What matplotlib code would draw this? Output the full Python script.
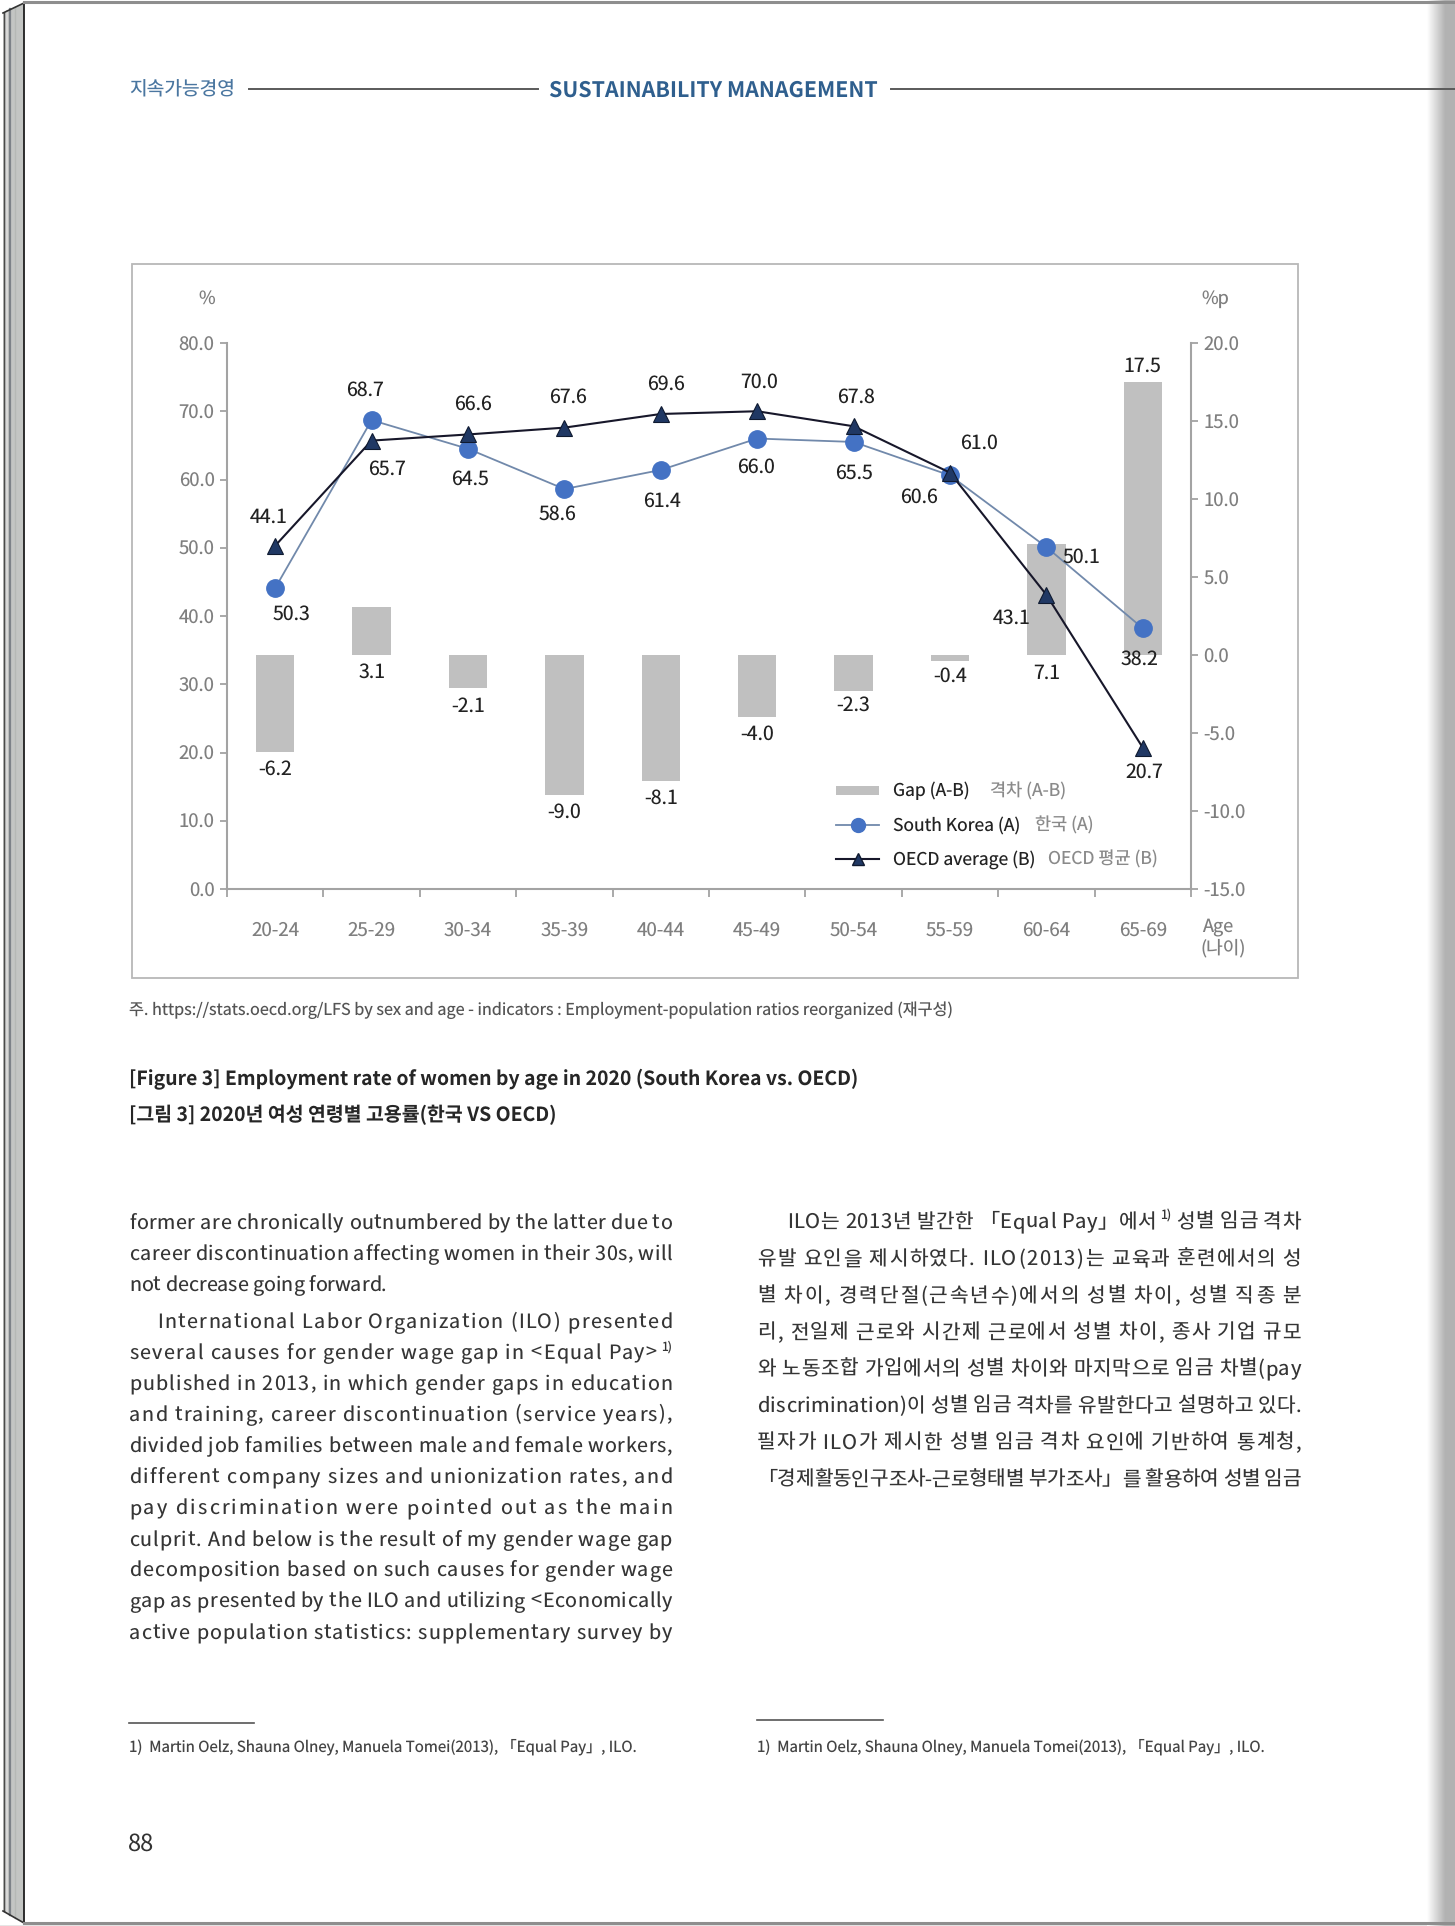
import matplotlib
matplotlib.use('Agg')
import matplotlib.pyplot as plt
import numpy as np
from matplotlib.patches import Rectangle, Polygon
from matplotlib.lines import Line2D
from matplotlib.font_manager import FontProperties, findfont, get_font

W, H = 1455, 1926
plt.rcParams['font.family'] = ['Noto Sans CJK KR', 'DejaVu Sans']
plt.rcParams['text.hinting'] = 'no_hinting'

# ---------------- data ----------------
age_groups = ['20-24', '25-29', '30-34', '35-39', '40-44',
              '45-49', '50-54', '55-59', '60-64', '65-69']
korea = [44.1, 68.7, 64.5, 58.6, 61.4, 66.0, 65.5, 60.6, 50.1, 38.2]
oecd = [50.3, 65.7, 66.6, 67.6, 69.6, 70.0, 67.8, 61.0, 43.1, 20.7]
gap = [-6.2, 3.1, -2.1, -9.0, -8.1, -4.0, -2.3, -0.4, 7.1, 17.5]
# data labels exactly as printed in the source figure
korea_labels = ['50.3', '68.7', '64.5', '58.6', '61.4', '66.0', '65.5', '60.6', '50.1', '38.2']
oecd_labels = ['44.1', '65.7', '66.6', '67.6', '69.6', '70.0', '67.8', '61.0', '43.1', '20.7']
gap_labels = ['-6.2', '3.1', '-2.1', '-9.0', '-8.1', '-4.0', '-2.3', '-0.4', '7.1', '17.5']
left_ticks = [0, 10, 20, 30, 40, 50, 60, 70, 80]
right_ticks = [-15, -10, -5, 0, 5, 10, 15, 20]
legend_en = ['Gap (A-B)', 'South Korea (A)', 'OECD average (B)']
legend_kr = ['격차 (A-B)', '한국 (A)', 'OECD 평균 (B)']

# label placement (pixel offsets) - style only
oecd_off = [(-7, 29), (15, -29), (5, 30), (4, 30), (5, 30), (2, 29), (2, 29), (29, 29), (-35, -23), (1, -24)]
korea_off = [(16, -26), (-7, 30), (2, -30), (-7, -25), (1, -31), (-1, -29), (0, -31), (-31, -22), (35, -10), (-3, -31)]
gap_off = [-17, -17, -18, -17, -17, -17, -14, -15, -18, 16]
legend_gap = [20, 15, 13]

fig = plt.figure(figsize=(W / 100, H / 100), dpi=100)
renderer = fig.canvas.get_renderer()

# page overlay axes in pixel coordinates
pg = fig.add_axes([0, 0, 1, 1])
pg.set_xlim(0, W)
pg.set_ylim(H, 0)
pg.axis('off')


def twidth(s, size, weight='normal'):
    t = pg.text(0, 0, s, fontsize=size, fontweight=weight)
    w = t.get_window_extent(renderer=renderer).width
    t.remove()
    return w


def fit_size(s, target, weight='normal'):
    return 10 * target / twidth(s, 10, weight)


# glyph advances for per-character justified body text
_fpath = findfont(FontProperties(family='Noto Sans CJK KR'))
try:
    from matplotlib.ft2font import LoadFlags
    _NOHINT = LoadFlags.NO_HINTING
except Exception:
    _NOHINT = 2
_adv_cache = {}


def adv(ch, size):
    key = (ch, size)
    if key not in _adv_cache:
        f = get_font(_fpath)
        f.set_size(size, 100)
        g = f.load_char(ord(ch), flags=_NOHINT)
        _adv_cache[key] = g.linearHoriAdvance / 65536.0
    return _adv_cache[key]


# ---------------- page decoration ----------------
pg.add_patch(Polygon([(3, 13), (24, 3), (24, 1923), (3, 1911)], closed=True,
                     facecolor='#c3c5c3', edgecolor='none', zorder=1))
pg.plot([3.5, 3.5], [13, 1911], color='#4a4a4a', lw=1.0, zorder=2)
pg.plot([6.5, 6.5], [11, 1913], color='#d8d8d8', lw=1.5, zorder=2)
pg.plot([10, 10], [9, 1915], color='#7d8288', lw=1.6, zorder=2)
pg.plot([15, 15], [7, 1918], color='#b5b8b5', lw=1.0, zorder=2)
pg.plot([24, 24], [3, 1923], color='#1e1e1e', lw=1.3, zorder=3)
pg.plot([3, 24], [13, 3], color='#333333', lw=1.2, zorder=3)
pg.plot([3, 24], [1911, 1923], color='#333333', lw=1.2, zorder=3)
pg.plot([24, W], [2.5, 2.5], color='#8e8e8e', lw=2.2, zorder=3)
pg.plot([24, W], [1923.5, 1923.5], color='#8e8e8e', lw=2.2, zorder=3)
pg.add_patch(Rectangle((0, 1925), W, 2, facecolor='#e6e6e6', edgecolor='none'))

# right shadow gradient
gx = np.linspace(0, 1, 60)
grad = np.clip(gx / 0.65, 0, 1)
vals = 1 - grad * (1 - 0.70)
shadow = np.tile(vals, (2, 1))
pg.imshow(np.dstack([shadow, shadow, shadow]), extent=(1427, W, H, 0),
          aspect='auto', zorder=1, interpolation='bilinear')
pg.set_xlim(0, W)
pg.set_ylim(H, 0)

# header
hdr_blue = '#2f5f8e'
pg.text(129, 90.5, '지속가능경영', fontsize=fit_size('지속가능경영', 106), color='#4a76a0',
        va='center', ha='left', zorder=5)
pg.plot([249, 538], [88.6, 88.6], color='#5a5a5a', lw=1.4, zorder=5)
pg.text(549, 90, 'SUSTAINABILITY MANAGEMENT',
        fontsize=fit_size('SUSTAINABILITY MANAGEMENT', 329, 'bold'),
        fontweight='bold', color=hdr_blue, va='center', ha='left', zorder=5)
pg.plot([891, W], [88.6, 88.6], color='#5a5a5a', lw=1.4, zorder=5)

# chart frame
pg.add_patch(Rectangle((131.5, 264.5), 1298 - 131.5, 978 - 264.5, fill=False,
                       edgecolor='#b8b8b8', lw=1.3, zorder=2))

# ---------------- chart ----------------
x = np.arange(len(age_groups))
L, R, T, B = 227, 1191, 343, 889
ax = fig.add_axes([L / W, 1 - B / H, (R - L) / W, (B - T) / H])
ax2 = ax.twinx()
ax.set_zorder(ax2.get_zorder() + 1)
ax.patch.set_visible(False)

ax2.bar(x, gap, width=0.4, color='#c0c0c0', zorder=1)
ax.plot(x, korea, color='#7189ab', lw=1.3, marker='o', ms=12.5,
        mfc='#4472c4', mec='#4472c4', zorder=3)
ax.plot(x, oecd, color='#17172a', lw=1.5, marker='^', ms=11,
        mfc='#203864', mec='#0f1a30', mew=0.8, zorder=4)

ax.set_xlim(-0.5, len(age_groups) - 0.5)
ax.set_ylim(0, 80)
ax2.set_ylim(-15, 20)

lbl_kw = dict(textcoords='offset pixels', ha='center', va='center', fontsize=14, color='#222222')
for i in range(len(x)):
    ax.annotate(oecd_labels[i], (x[i], oecd[i]), xytext=oecd_off[i], zorder=6, **lbl_kw)
    ax.annotate(korea_labels[i], (x[i], korea[i]), xytext=korea_off[i], zorder=6, **lbl_kw)
    anchor = gap[i] if gap_off[i] > 0 else min(gap[i], 0)
    ax2.annotate(gap_labels[i], (x[i], anchor), xytext=(0, gap_off[i]), **lbl_kw)

spine_c = '#a3a3a3'
tick_c = '#7f7f7f'
for a in (ax, ax2):
    for s in a.spines.values():
        s.set_visible(False)
ax.spines['left'].set_visible(True)
ax.spines['bottom'].set_visible(True)
ax2.spines['right'].set_visible(True)
for s in (ax.spines['left'], ax.spines['bottom'], ax2.spines['right']):
    s.set_color(spine_c)
    s.set_linewidth(1.5)

ax.set_yticks(left_ticks)
ax.set_yticklabels([f'{v:.1f}' for v in left_ticks])
ax2.set_yticks(right_ticks)
ax2.set_yticklabels([f'{v:.1f}' for v in right_ticks])
ax.tick_params(axis='y', length=5, width=1.3, color=spine_c, pad=4,
               labelsize=13.3, labelcolor=tick_c)
ax2.tick_params(axis='y', length=5, width=1.3, color=spine_c, pad=4,
                labelsize=13.3, labelcolor=tick_c)
ax.set_xticks(x)
ax.set_xticklabels(age_groups)
ax.tick_params(axis='x', which='major', length=0, pad=23, labelsize=13.5, labelcolor=tick_c)
ax.set_xticks(np.arange(-0.5, len(age_groups), 1), minor=True)
ax.tick_params(axis='x', which='minor', length=6, width=1.3, color=spine_c)

# unit labels
pg.text(207, 299, '%', fontsize=13, color=tick_c, ha='center', va='center', zorder=5)
pg.text(1201, 299, '%p', fontsize=13, color=tick_c, ha='left', va='center', zorder=5)
pg.text(1202, 927, 'Age', fontsize=13, color=tick_c, ha='left', va='center', zorder=5)
pg.text(1200, 948, '(나이)', fontsize=13, color=tick_c, ha='left', va='center', zorder=5)

# legend (manual)
leg_y = [791, 825.5, 859.5]
pg.add_patch(Rectangle((836, leg_y[0] - 4.5), 43, 9, facecolor='#c0c0c0', edgecolor='none', zorder=5))
pg.add_line(Line2D([836, 879], [leg_y[1], leg_y[1]], color='#7189ab', lw=1.3, zorder=5))
pg.add_line(Line2D([857.5], [leg_y[1]], marker='o', ms=10, mfc='#4472c4', mec='#4472c4', zorder=6))
pg.add_line(Line2D([836, 879], [leg_y[2], leg_y[2]], color='#17172a', lw=1.5, zorder=5))
pg.add_line(Line2D([857.5], [leg_y[2]], marker='^', ms=9, mfc='#203864', mec='#0f1a30', zorder=6))
leg_size = 12.6
for yy, en, kr, gg in zip(leg_y, legend_en, legend_kr, legend_gap):
    pg.text(893, yy, en, fontsize=leg_size, color='#222222', ha='left', va='center', zorder=6)
    wen = twidth(en, leg_size)
    pg.text(893 + wen + gg, yy, kr, fontsize=leg_size, color='#8a8a8a', ha='left', va='center', zorder=6)

# ---------------- captions ----------------
src = '주. https://stats.oecd.org/LFS by sex and age - indicators : Employment-population ratios reorganized (재구성)'
pg.text(129, 1010, src, fontsize=fit_size(src, 825), color='#555555', ha='left', va='center')
cap1 = '[Figure 3] Employment rate of women by age in 2020 (South Korea vs. OECD)'
cap2 = '[그림 3] 2020년 여성 연령별 고용률(한국 VS OECD)'
cs = fit_size(cap1, 730, 'semibold')
pg.text(129, 1079, cap1, fontsize=cs, fontweight='semibold', color='#262626', ha='left', va='center')
pg.text(129, 1115, cap2, fontsize=cs, fontweight='semibold', color='#262626', ha='left', va='center')

# ---------------- body text (character-level justification) ----------------
body_c = '#353535'


def draw_line(s, x0, x1, yc, size, color, justify=True):
    em = size * 100 / 72.0
    base = yc + 0.28 * em
    words = s.split(' ')
    units = []  # (kind, text, width)
    for wi, w in enumerate(words):
        if '^' in w:
            main, sup = w.split('^')
        else:
            main, sup = w, ''
        for ch in main:
            units.append(('c', ch, adv(ch, size)))
        if sup:
            sw = sum(adv(c, size * 0.62) for c in sup) + 3
            units.append(('s', sup, sw))
        if wi < len(words) - 1:
            units.append(('c', ' ', adv(' ', size)))
    natural = sum(u[2] for u in units)
    if justify and len(units) > 1:
        ls = (x1 - x0 - natural) / (len(units) - 1)
    else:
        ls = 0.0
    xx = x0
    for kind, t, wdt in units:
        if kind == 'c':
            if t != ' ':
                pg.text(xx, base, t, fontsize=size, color=color, ha='left', va='baseline')
        else:
            pg.text(xx + 3, base - 0.42 * em, t, fontsize=size * 0.62, color=color,
                    ha='left', va='baseline')
        xx += wdt + ls


BS_L = 14.2
BS_R = 14.5
left_lines = [
    ('former are chronically outnumbered by the latter due to', 0, True),
    ('career discontinuation affecting women in their 30s, will', 0, True),
    ('not decrease going forward.', 0, False),
    ('International Labor Organization (ILO) presented', 28, True),
    ('several causes for gender wage gap in <Equal Pay>^1)', 0, True),
    ('published in 2013, in which gender gaps in education', 0, True),
    ('and training, career discontinuation (service years),', 0, True),
    ('divided job families between male and female workers,', 0, True),
    ('different company sizes and unionization rates, and', 0, True),
    ('pay discrimination were pointed out as the main', 0, True),
    ('culprit. And below is the result of my gender wage gap', 0, True),
    ('decomposition based on such causes for gender wage', 0, True),
    ('gap as presented by the ILO and utilizing <Economically', 0, True),
    ('active population statistics: supplementary survey by', 0, True),
]
left_y = [1223, 1254, 1285, 1322.5, 1353, 1384, 1415, 1446.5, 1477.5, 1508.5, 1540, 1570.5, 1601.5, 1633]
for (s, ind, j), yy in zip(left_lines, left_y):
    draw_line(s, 129 + ind, 672, yy, BS_L, body_c, j)

right_lines = [
    ('ILO는 2013년 발간한 「Equal Pay」에서^1) 성별 임금 격차', 30),
    ('유발 요인을 제시하였다. ILO(2013)는 교육과 훈련에서의 성', 0),
    ('별 차이, 경력단절(근속년수)에서의 성별 차이, 성별 직종 분', 0),
    ('리, 전일제 근로와 시간제 근로에서 성별 차이, 종사 기업 규모', 0),
    ('와 노동조합 가입에서의 성별 차이와 마지막으로 임금 차별(pay', 0),
    ('discrimination)이 성별 임금 격차를 유발한다고 설명하고 있다.', 0),
    ('필자가 ILO가 제시한 성별 임금 격차 요인에 기반하여 통계청,', 0),
    ('「경제활동인구조사-근로형태별 부가조사」를 활용하여 성별 임금', 0),
]
right_y = [1222.5, 1259.5, 1296.5, 1333, 1369.5, 1406.5, 1443, 1480]
for (s, ind), yy in zip(right_lines, right_y):
    draw_line(s, 757 + ind, 1301, yy, BS_R, body_c, True)

# footnotes
pg.plot([129, 254], [1723, 1723], color='#555555', lw=1.2)
pg.plot([757, 883], [1720, 1720], color='#555555', lw=1.2)
fn = '1)  Martin Oelz, Shauna Olney, Manuela Tomei(2013), 「Equal Pay」, ILO.'
fs = fit_size(fn, 508)
pg.text(129, 1747, fn, fontsize=fs, color='#444444', ha='left', va='center')
pg.text(757, 1747, fn, fontsize=fs, color='#444444', ha='left', va='center')

pg.text(128, 1844, '88', fontsize=17, color='#333333', ha='left', va='center')

fig.savefig('out.png', dpi=100)
